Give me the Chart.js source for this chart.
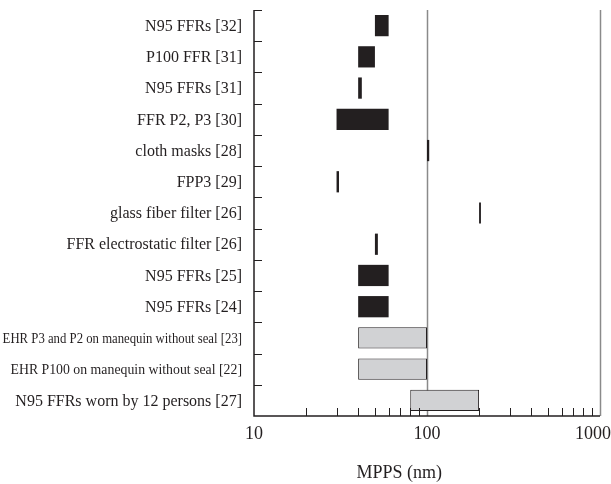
<!DOCTYPE html>
<html>
<head>
<meta charset="utf-8">
<script src="https://cdn.jsdelivr.net/npm/chart.js@4/dist/chart.umd.min.js"></script>
<style>
html,body{margin:0;padding:0;background:#fff}
</style>
</head>
<body>
<canvas id="mpps" width="611" height="484"></canvas>
<script>
// rows, top to bottom
const labels = [
  'N95 FFRs [32]',
  'P100 FFR [31]',
  'N95 FFRs [31]',
  'FFR P2, P3 [30]',
  'cloth masks [28]',
  'FPP3 [29]',
  'glass fiber filter [26]',
  'FFR electrostatic filter [26]',
  'N95 FFRs [25]',
  'N95 FFRs [24]',
  'EHR P3 and P2 on manequin without seal [23]',
  'EHR P100 on manequin without seal [22]',
  'N95 FFRs worn by 12 persons [27]'
];
const lowNm  = [50, 40, 40, 30, 100, 30, 200, 50, 40, 40, 40, 40, 80];
const highNm = [60, 50, 42, 60, 103, 31, 205, 52, 60, 60, 100, 100, 200];
const kind   = ['d','d','d','d','d','d','d','d','d','d','l','l','l'];
// the two long EHR labels are squeezed horizontally in the original
const squeeze = { 10: 0.85, 11: 0.92 };

const xTicks = [10,20,30,40,50,60,70,80,90,100,200,300,400,500,600,700,800,900,1000];
const xLabeled = [10, 100, 1000];
const refLines = [100, 1000];

const ink = '#231f20';
const light = '#d1d2d4';

const frame = {
  id: 'frame',
  beforeDatasetsDraw(chart) {
    const c = chart.ctx, a = chart.chartArea, x = chart.scales.x;
    c.save();
    c.strokeStyle = '#8a8a8a';
    c.lineWidth = 1.5;
    refLines.forEach(v => {
      const px = Math.round(x.getPixelForValue(v)) + 0.5;
      c.beginPath(); c.moveTo(px, a.top); c.lineTo(px, a.bottom); c.stroke();
    });
    c.restore();
  },
  afterDraw(chart) {
    const c = chart.ctx, a = chart.chartArea, x = chart.scales.x, y = chart.scales.y;
    const row = y.getPixelForValue(1) - y.getPixelForValue(0);
    c.save();
    c.strokeStyle = ink;
    c.lineWidth = 1.5;
    c.beginPath();
    c.moveTo(a.left, a.top); c.lineTo(a.left, a.bottom); c.lineTo(a.right, a.bottom);
    c.stroke();
    c.lineWidth = 1;
    // row separators on the left axis
    for (let i = 0; i < labels.length; i++) {
      const py = Math.round(y.getPixelForValue(i) - row / 2) + 0.5;
      c.beginPath(); c.moveTo(a.left, py); c.lineTo(a.left + 8, py); c.stroke();
    }
    // minor ticks on the x axis
    xTicks.forEach(v => {
      if (xLabeled.includes(v)) return;
      const px = Math.round(x.getPixelForValue(v)) + 0.5;
      c.beginPath(); c.moveTo(px, a.bottom); c.lineTo(px, a.bottom - 8); c.stroke();
    });
    c.fillStyle = ink;
    c.textBaseline = 'middle';
    // x labels, the last one kept inside the page
    c.font = '18px "Liberation Serif"';
    c.textAlign = 'center';
    xLabeled.forEach(v => {
      const s = String(v), w = c.measureText(s).width;
      const px = Math.min(x.getPixelForValue(v), chart.width - w / 2);
      c.fillText(s, px, a.bottom + 18);
    });
    // row labels
    c.textAlign = 'right';
    labels.forEach((t, i) => {
      c.save();
      c.translate(a.left - 12, y.getPixelForValue(i) + 1);
      if (squeeze[i]) {
        c.font = '15px "Liberation Serif"';
        c.scale(squeeze[i], 1);
      } else {
        c.font = '16px "Liberation Serif"';
      }
      c.fillText(t, 0, 0);
      c.restore();
    });
    // axis title
    c.font = '18px "Liberation Serif"';
    c.textAlign = 'center';
    c.fillText('MPPS (nm)', a.left + (a.right - a.left) * 0.42, a.bottom + 57);
    c.restore();
  }
};

new Chart(document.getElementById('mpps'), {
  type: 'bar',
  data: {
    labels: labels,
    datasets: [{
      data: lowNm.map((v, i) => [v, highNm[i]]),
      backgroundColor: kind.map(k => k === 'd' ? ink : light),
      borderColor: ink,
      borderWidth: kind.map(k => k === 'd' ? 0 : 1),
      borderSkipped: false,
      barPercentage: 0.68,
      categoryPercentage: 1
    }]
  },
  options: {
    indexAxis: 'y',
    responsive: false,
    animation: false,
    layout: { padding: { top: 10, right: 11, left: 0, bottom: 0 } },
    plugins: { legend: { display: false }, tooltip: { enabled: false } },
    scales: {
      x: {
        type: 'logarithmic',
        min: 10,
        max: 1000,
        grid: { display: false, drawTicks: false },
        border: { display: false },
        afterBuildTicks: s => { s.ticks = xTicks.map(v => ({ value: v })); },
        afterFit: s => { s.height = 68; s.paddingLeft = 0; s.paddingRight = 0; },
        ticks: { display: false }
      },
      y: {
        grid: { display: false, drawTicks: false },
        border: { display: false },
        afterFit: s => { s.width = 254; s.paddingTop = 0; s.paddingBottom = 0; },
        ticks: { display: false }
      }
    }
  },
  plugins: [frame]
});
</script>
</body>
</html>
